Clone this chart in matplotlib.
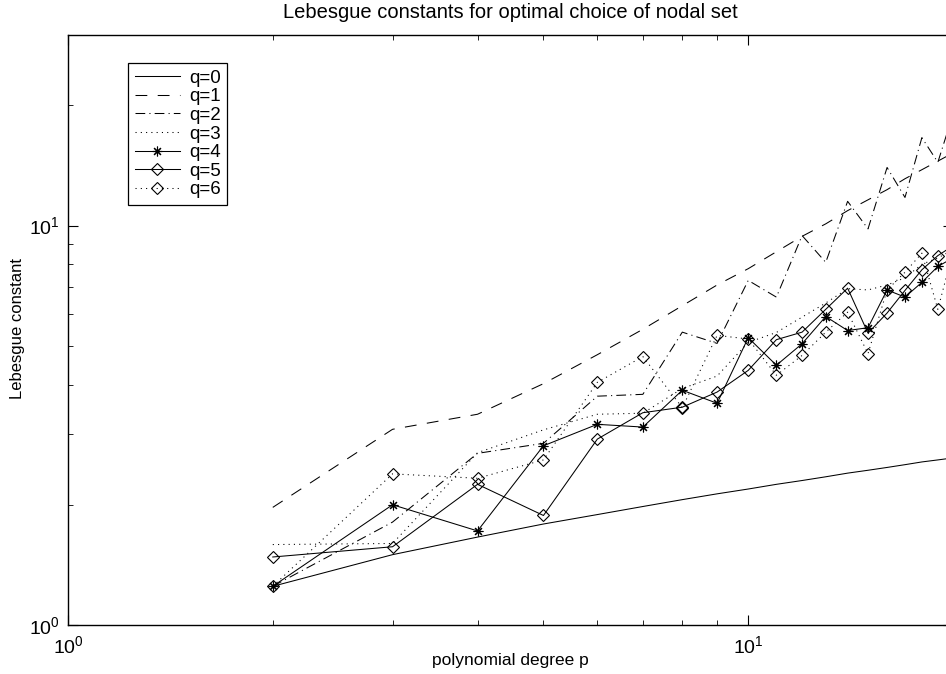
import matplotlib
matplotlib.use('Agg')
import matplotlib.pyplot as plt

# ---- data ----
p = [2, 3, 4, 5, 6, 7, 8, 9, 10, 11, 12, 13, 14, 15, 16, 17, 18, 19, 20]
q0 = [1.25, 1.50, 1.66, 1.79, 1.89, 1.98, 2.06, 2.13, 2.19, 2.25, 2.30, 2.35, 2.40, 2.44, 2.48, 2.52, 2.56, 2.59, 2.62]
q1 = [1.97, 3.09, 3.37, 4.02, 4.75, 5.50, 6.30, 7.10, 7.80, 8.60, 9.40, 10.1, 10.9, 11.6, 12.3, 13.1, 13.8, 14.5, 15.2]
q2 = [1.25, 1.81, 2.69, 2.85, 3.74, 3.78, 5.41, 5.07, 7.29, 6.62, 9.44, 8.09, 11.5, 9.81, 13.98, 11.76, 16.6, 14.4, 19.0]
q3 = [1.59, 1.60, 2.70, 3.08, 3.37, 3.39, 3.91, 4.20, 5.10, 5.40, 5.90, 6.40, 6.95, 6.90, 7.10, 7.40, 8.00, 8.30, 8.70]
q4 = [1.25, 2.00, 1.72, 2.81, 3.18, 3.13, 3.87, 3.59, 5.24, 4.47, 5.06, 5.92, 5.46, 5.55, 6.90, 6.62, 7.21, 7.90, 8.30]
q5 = [1.48, 1.57, 2.25, 1.88, 2.92, 3.40, 3.51, 3.83, 4.34, 5.18, 5.41, 6.17, 6.97, 5.38, 6.04, 6.88, 7.75, 8.41, 8.90]
q6 = [1.25, 2.39, 2.33, 2.59, 4.05, 4.70, 3.50, 5.31, 5.20, 4.22, 4.73, 5.41, 6.07, 4.78, 6.90, 7.64, 8.53, 6.17, 8.60]
labels = ['q=0', 'q=1', 'q=2', 'q=3', 'q=4', 'q=5', 'q=6']

plt.rcParams['font.family'] = ['Liberation Sans', 'DejaVu Sans']
plt.rcParams['lines.scale_dashes'] = False
plt.rcParams['mathtext.default'] = 'regular'

W, H = 946, 674
fig = plt.figure(figsize=(W / 100, H / 100), dpi=100)
ax = fig.add_axes([68 / W, 49 / H, 885 / W, 590 / H])

lw = 0.75
dotted = (0, (0.8, 3.0))
dashed = (0, (8.5, 7.5))
dashdot = (0, (7.0, 3.0, 0.8, 3.0))
ast = (8, 2, 0)

ax.plot(p, q0, color='k', lw=lw, ls='-', label=labels[0])
ax.plot(p, q1, color='k', lw=lw, ls=dashed, label=labels[1])
ax.plot(p, q2, color='k', lw=lw, ls=dashdot, label=labels[2])
ax.plot(p, q3, color='k', lw=lw, ls=dotted, label=labels[3])
ax.plot(p, q4, color='k', lw=lw, ls='-', marker=ast, ms=7, mew=0.8, label=labels[4])
ax.plot(p, q5, color='k', lw=lw, ls='-', marker='D', ms=6, mfc='none', mew=0.8, label=labels[5])
ax.plot(p, q6, color='k', lw=lw, ls=dotted, marker='D', ms=6, mfc='none', mew=0.8, label=labels[6])

ax.set_xscale('log')
ax.set_yscale('log')
ax.set_xlim(1, 20)
ax.set_ylim(1, 30)

for s in ax.spines.values():
    s.set_linewidth(1.0)
ax.tick_params(which='both', direction='in', top=True, right=True, labelsize=14)
ax.tick_params(which='major', length=7, width=0.8)
ax.tick_params(which='minor', length=3.5, width=0.6)
ax.tick_params(axis='x', which='major', pad=7)
ax.tick_params(axis='y', which='major', pad=6)

ax.set_title('Lebesgue constants for optimal choice of nodal set', fontsize=14.5, pad=12)
ax.set_xlabel('polynomial degree p', fontsize=12.5)
ax.set_ylabel('Lebesgue constant', fontsize=12)
ax.xaxis.set_label_coords(0.5, -0.06)
ax.xaxis.label.set_va('center')
ax.yaxis.set_label_coords(-0.0576, 0.503)
ax.yaxis.label.set_va('center')

leg = ax.legend(loc='upper left', bbox_to_anchor=(0.0678, 0.9525), borderaxespad=0,
                fontsize=13.5, numpoints=1, handlelength=2.4, handletextpad=0.5,
                labelspacing=0.08, borderpad=0.35, fancybox=False, framealpha=1)
leg.get_frame().set_edgecolor('k')
leg.get_frame().set_linewidth(0.9)

fig.savefig('out.png', dpi=100)
